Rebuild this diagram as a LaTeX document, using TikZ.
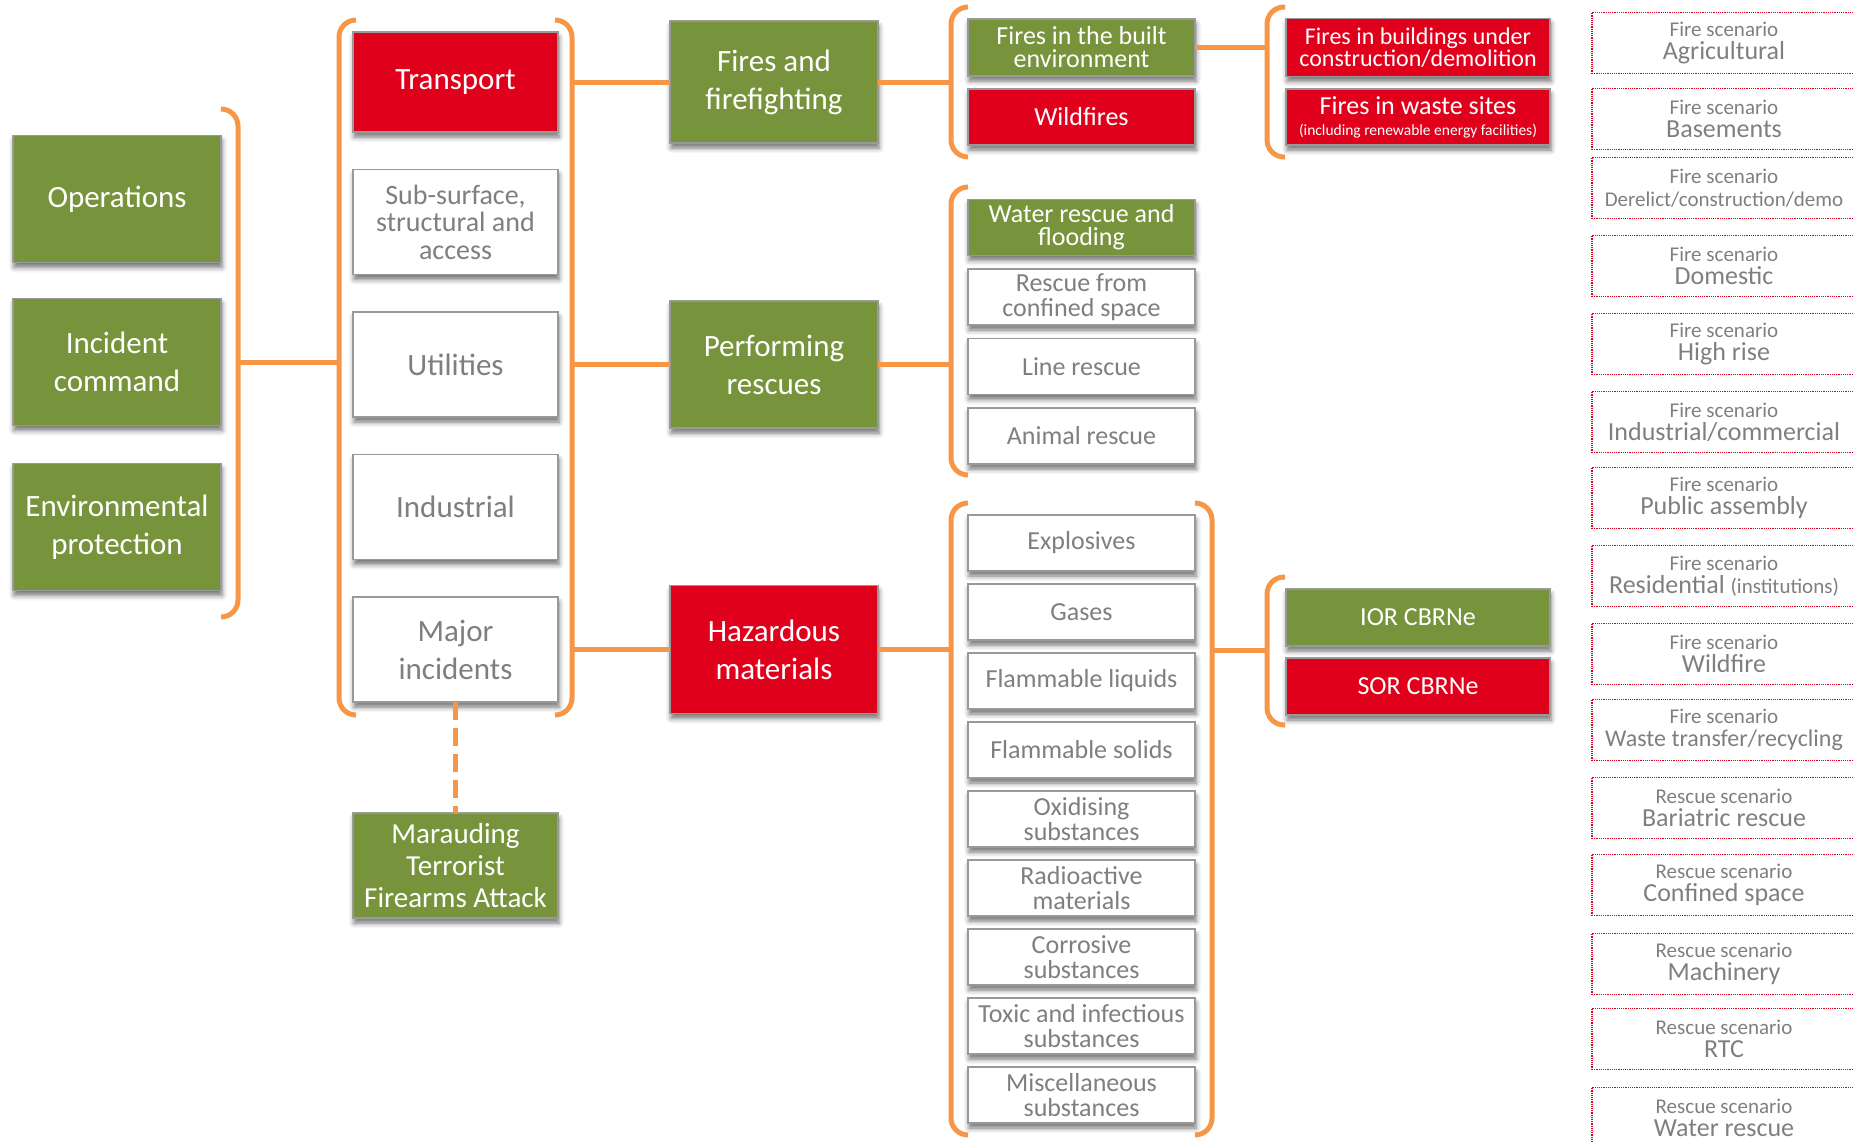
\documentclass[tikz,border=0pt]{standalone}
\usepackage{fontspec}
\setmainfont{Carlito}
\usetikzlibrary{positioning,shadows.blur}
\definecolor{olivebox}{RGB}{119,147,60}
\definecolor{alarmred}{RGB}{224,0,27}
\definecolor{braceorange}{RGB}{247,150,70}
\definecolor{greytext}{RGB}{127,127,127}
\newcommand{\scentext}[2]{{\fontsize{21}{23}\selectfont #1 scenario}\\#2}
\tikzset{
  box/.style={draw=black!40, line width=1.2pt, inner sep=0pt, outer sep=0pt, align=center,
    blur shadow={shadow xshift=1pt, shadow yshift=-5pt, shadow blur radius=5pt, shadow opacity=55}},
  gbox/.style={box, fill=olivebox, text=white},
  rbox/.style={box, fill=alarmred, text=white},
  wbox/.style={box, fill=white, text=greytext},
  col1/.style={minimum width=208pt, minimum height=127pt, font=\fontsize{31}{38}\selectfont},
  col2/.style={minimum width=205pt, minimum height=105pt, font=\fontsize{31}{38}\selectfont},
  col3/.style={minimum width=208pt, font=\fontsize{31}{38}\selectfont},
  col4/.style={minimum width=227pt, minimum height=56pt, font=\fontsize{26}{24.5}\selectfont},
  col5/.style={minimum width=264pt, minimum height=57pt, font=\fontsize{26}{24}\selectfont},
  scen/.style={draw=alarmred, densely dotted, line width=1.2pt, minimum width=264pt, minimum height=61pt,
    inner sep=0pt, align=center, anchor=north, text=greytext, font=\fontsize{26}{23}\selectfont},
  curl/.style={draw=braceorange, line width=5pt, rounded corners=17pt},
  feed/.style={draw=braceorange, line width=5pt}
}

\begin{document}
\begin{tikzpicture}[x=1pt,y=-1pt]
	\useasboundingbox (0,0) rectangle (1853,1143);
	
	\node[gbox, col1] (ops) at (117,199) {Operations};
	\node[gbox, col1, below=36pt of ops] (cmd) {Incident\\command};
	\node[gbox, col1, below=38pt of cmd] (env) {Environmental\\protection};
	
	\node[rbox, col2, minimum height=100pt] (transport) at (455.5,82) {Transport};
	\node[wbox, col2, below=37.5pt of transport, font=\fontsize{28}{27.5}\selectfont] (subsurf) {Sub-surface,\\structural and\\access};
	\node[wbox, col2, below=37.5pt of subsurf] (utilities) {Utilities};
	\node[wbox, col2, below=37.5pt of utilities] (industrial) {Industrial};
	\node[wbox, col2, below=37.5pt of industrial] (major) {Major\\incidents};
	\node[gbox, col2, below=111pt of major, font=\fontsize{29}{32}\selectfont] (mtfa) {Marauding\\Terrorist\\Firearms Attack};
	
	\node[gbox, col3, minimum height=122pt, right=112pt of transport] (fires) {Fires and\\firefighting};
	\node[gbox, col3, minimum height=127pt, right=112pt of utilities] (rescues) {Performing\\rescues};
	\node[rbox, col3, minimum height=128pt, right=112pt of major] (hazmat) {Hazardous\\materials};
	
	\node[gbox, col4, minimum height=57pt, font=\fontsize{26}{23}\selectfont] (built) at (1081.5,47.5) {Fires in the built\\environment};
	\node[rbox, col4, below=13pt of built] (wildfires) {Wildfires};
	
	\node[gbox, col4, font=\fontsize{26}{23}\selectfont] (water) at (1081.5,227.5) {Water rescue and\\flooding};
	\node[wbox, col4, below=13.5pt of water] (confined) {Rescue from\\confined space};
	\node[wbox, col4, below=13.5pt of confined] (linersc) {Line rescue};
	\node[wbox, col4, below=13.5pt of linersc] (animal) {Animal rescue};
	
	\node[wbox, col4] (explosives) at (1081.5,543) {Explosives};
	\node[wbox, col4, below=13pt of explosives] (gases) {Gases};
	\node[wbox, col4, below=13pt of gases] (flamliq) {Flammable liquids};
	\node[wbox, col4, below=13pt of flamliq] (flamsol) {Flammable solids};
	\node[wbox, col4, below=13pt of flamsol] (oxidising) {Oxidising\\substances};
	\node[wbox, col4, below=13pt of oxidising] (radioactive) {Radioactive\\materials};
	\node[wbox, col4, below=13pt of radioactive] (corrosive) {Corrosive\\substances};
	\node[wbox, col4, below=13pt of corrosive] (toxic) {Toxic and infectious\\substances};
	\node[wbox, col4, below=13pt of toxic] (misc) {Miscellaneous\\substances};
	
	\node[rbox, col5, minimum height=58pt, right=91pt of built, font=\fontsize{24}{22}\selectfont] (construction) {Fires in buildings under\\construction/demolition};
	\node[rbox, col5, minimum height=56pt, right=91pt of wildfires, font=\fontsize{26}{21}\selectfont] (waste) {Fires in waste sites\\{\fontsize{15.5}{21}\selectfont (including renewable energy facilities)}};
	\node[gbox, col5] (ior) at (1418,617.5) {IOR CBRNe};
	\node[rbox, col5, below=12pt of ior] (sor) {SOR CBRNe};
	
	\node[scen] (agri) at (1724,12) {\scentext{Fire}{Agricultural}};
	\node[scen] (base) at (1724,88) {\scentext{Fire}{Basements}};
	\node[scen] (dere) at (1724,157) {\scentext{Fire}{{\fontsize{21}{23}\selectfont Derelict/construction/demo}}};
	\node[scen] (dome) at (1724,235) {\scentext{Fire}{Domestic}};
	\node[scen] (high) at (1724,313) {\scentext{Fire}{High rise}};
	\node[scen] (indu) at (1724,391) {\scentext{Fire}{Industrial/commercial}};
	\node[scen] (publ) at (1724,467) {\scentext{Fire}{Public assembly}};
	\node[scen] (resi) at (1724,545) {\scentext{Fire}{Residential {\fontsize{21}{23}\selectfont(institutions)}}};
	\node[scen] (wild) at (1724,623) {\scentext{Fire}{Wildfire}};
	\node[scen] (wast) at (1724,699) {\scentext{Fire}{{\fontsize{24}{23}\selectfont Waste transfer/recycling}}};
	\node[scen] (bari) at (1724,777) {\scentext{Rescue}{Bariatric rescue}};
	\node[scen] (conf) at (1724,854) {\scentext{Rescue}{Confined space}};
	\node[scen] (mach) at (1724,933) {\scentext{Rescue}{Machinery}};
	\node[scen] (rtc) at (1724,1008) {\scentext{Rescue}{RTC}};
	\node[scen] (watr) at (1724,1087) {\scentext{Rescue}{Water rescue}};
	
	\coordinate (hub1) at (238,362);
	\coordinate (hub2) at (339,362);
	\coordinate (hub3) at (572,0);
	\coordinate (hubA) at (951,0);
	\coordinate (hubC) at (1212,650);
	\coordinate (hubD) at (1267,650);
	
	\draw[curl] (221,109) -- (238,109) -- (238,617) -- (221,617);
	\draw[curl] (356,20) -- (339,20) -- (339,715) -- (356,715);
	\draw[curl] (555,20) -- (572,20) -- (572,715) -- (555,715);
	\draw[curl] (968,7) -- (951,7) -- (951,157) -- (968,157);
	\draw[curl] (968,187) -- (951,187) -- (951,475) -- (968,475);
	\draw[curl] (968,503) -- (951,503) -- (951,1135) -- (968,1135);
	\draw[curl] (1195,503) -- (1212,503) -- (1212,1135) -- (1195,1135);
	\draw[curl] (1285,577) -- (1267,577) -- (1267,725) -- (1285,725);
	\draw[curl] (1285,7) -- (1267,7) -- (1267,157) -- (1285,157);
	
	\draw[feed] (hub1) -- (hub2);
	\draw[feed] (fires.west -| hub3) -- (fires.west);
	\draw[feed] (rescues.west -| hub3) -- (rescues.west);
	\draw[feed] (hazmat.west -| hub3) -- (hazmat.west);
	\draw[feed] (fires.east) -- (fires.east -| hubA);
	\draw[feed] (rescues.east) -- (rescues.east -| hubA);
	\draw[feed] (hazmat.east) -- (hazmat.east -| hubA);
	\draw[feed] (hubC) -- (hubD);
	\draw[feed] (built.east) -- (built.east -| hubD);
	\draw[feed, line width=5.5pt, dash pattern=on 18pt off 8pt] (major.south) -- (mtfa.north);
\end{tikzpicture}
\end{document}
